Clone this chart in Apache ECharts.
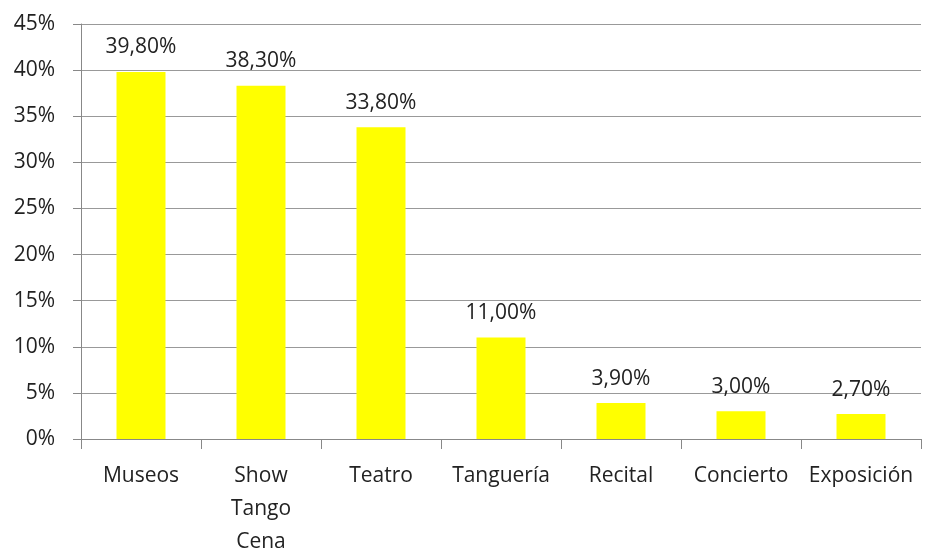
<!DOCTYPE html>
<html>
<head>
<meta charset="utf-8">
<script src="https://cdn.jsdelivr.net/npm/echarts@6/dist/echarts.min.js"></script>
<style>
  html, body { margin: 0; padding: 0; background: #fff; }
  #chart { width: 925px; height: 550px; }
</style>
</head>
<body>
<div id="chart"></div>
<script>
// categorias y valores (%)
var categories = ['Museos', 'Show\nTango\nCena', 'Teatro', 'Tanguería', 'Recital', 'Concierto', 'Exposición'];
var values = [39.8, 38.3, 33.8, 11.0, 3.9, 3.0, 2.7];

var chart = echarts.init(document.getElementById('chart'));

var font = 'Open Sans';

var option = {
  animation: false,
  grid: {
    left: 81,
    right: 4,
    top: 24,
    bottom: 111,
    outerBoundsMode: 'none'
  },
  xAxis: {
    type: 'category',
    data: categories,
    axisLine: { lineStyle: { color: '#888', width: 1 } },
    axisTick: { show: true, length: 10, lineStyle: { color: '#888' } },
    axisLabel: {
      color: '#222',
      fontSize: 21,
      fontFamily: font,
      margin: 21,
      lineHeight: 33,
      interval: 0
    }
  },
  yAxis: {
    type: 'value',
    min: 0,
    max: 45,
    interval: 5,
    axisLine: { show: true, lineStyle: { color: '#888', width: 1 } },
    axisTick: { show: true, length: 8, lineStyle: { color: '#888' } },
    splitLine: { lineStyle: { color: '#999', width: 1 } },
    axisLabel: {
      color: '#222',
      fontSize: 21,
      fontFamily: font,
      margin: 26,
      formatter: '{value}%'
    }
  },
  series: [{
    type: 'bar',
    data: values,
    barWidth: 49,
    itemStyle: { color: '#FFFF00' },
    label: {
      show: true,
      position: 'top',
      distance: 14,
      color: '#222',
      fontSize: 21,
      fontFamily: font,
      formatter: function (p) {
        return p.value.toFixed(2).replace('.', ',') + '%';
      }
    }
  }]
};

chart.setOption(option);
</script>
</body>
</html>
